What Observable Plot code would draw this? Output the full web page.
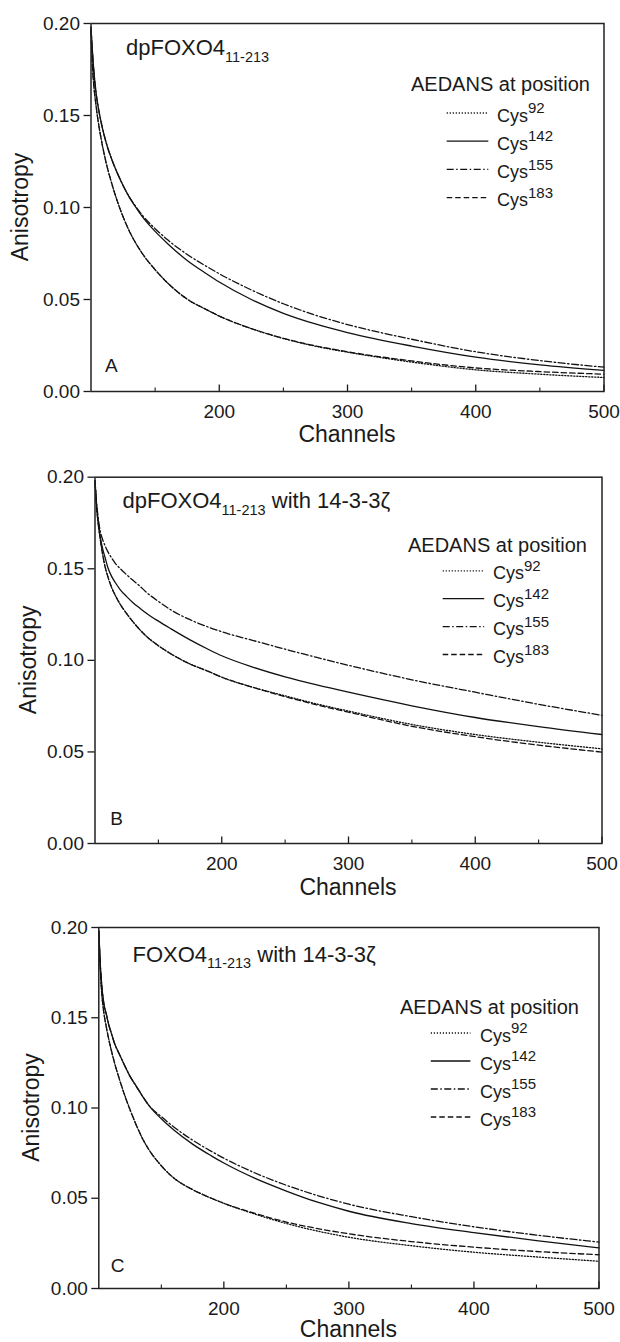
<!DOCTYPE html>
<html><head><meta charset="utf-8">
<script src="https://cdn.jsdelivr.net/npm/d3@7"></script>
<script src="https://cdn.jsdelivr.net/npm/@observablehq/plot@0.6"></script>
<style>
html,body{margin:0;padding:0;background:#fff;}
#root{position:relative;width:620px;height:1342px;overflow:hidden;background:#fff;}
</style></head><body><div id="root"></div>
<script>
// ---------------- data ----------------
const channels = [100,101,102,104,106,108,110,113,116,120,125,130,135,140,150,160,175,190,200,225,250,275,300,350,400,450,500];
const seriesKeys = ["92","142","155","183"];
const xMajor = [200,300,400,500];
const xMinor = [150,250,350,450];
const yTicks = [0,0.05,0.10,0.15,0.20];

// Panel A: dpFOXO4 11-213
const A_cys92  = [.196,.178,.168,.155,.145,.137,.130,.121,.1135,.1045,.0950,.0870,.0805,.0750,.0662,.0588,.0502,.0445,.0410,.0342,.0288,.0246,.0214,.0160,.0118,.0094,.0076];
const A_cys142 = [.198,.186,.176,.162,.153,.146,.140,.1325,.1265,.1195,.1120,.1055,.1000,.0950,.0870,.0802,.0712,.0640,.0595,.0500,.0425,.0367,.0320,.0247,.0187,.0145,.0115];
const A_cys155 = [.198,.186,.176,.162,.153,.146,.140,.1325,.1265,.1195,.1120,.1055,.1005,.0958,.0885,.0823,.0745,.0680,.0640,.0552,.0477,.0415,.0364,.0284,.0216,.0168,.0132];
const A_cys183 = [.196,.178,.168,.155,.145,.137,.130,.121,.1135,.1045,.0950,.0870,.0805,.0750,.0662,.0588,.0502,.0445,.0410,.0342,.0289,.0248,.0216,.0166,.0128,.0108,.0094];

// Panel B: dpFOXO4 11-213 with 14-3-3ζ
const B_cys92  = [.198,.186,.178,.167,.158,.151,.146,.140,.1355,.1305,.1255,.121,.117,.1135,.108,.1035,.098,.0938,.0908,.0852,.0806,.0762,.0723,.0650,.0595,.0553,.0517];
const B_cys142 = [.198,.187,.179,.168,.161,.156,.151,.146,.1425,.1385,.1348,.1315,.1287,.1260,.1214,.1172,.1112,.1058,.1025,.0962,.0910,.0866,.0826,.0752,.0688,.0638,.0595];
const B_cys155 = [.198,.188,.181,.171,.166,.1625,.1595,.1560,.1530,.1500,.1467,.1437,.1408,.1375,.1322,.1275,.1222,.1180,.1156,.1108,.1061,.1016,.0973,.0894,.0826,.0760,.0700];
const B_cys183 = [.198,.186,.178,.167,.158,.151,.146,.140,.1355,.1305,.1255,.121,.117,.1135,.108,.1035,.098,.0938,.0908,.0852,.0802,.0757,.0717,.0640,.0583,.0537,.0499];

// Panel C: FOXO4 11-213 with 14-3-3ζ
const C_cys92  = [.198,.180,.167,.153,.145,.138,.132,.124,.117,.1085,.099,.0905,.0830,.0770,.0680,.0612,.0548,.0500,.0472,.0412,.0360,.0318,.0284,.0237,.0201,.0175,.0151];
const C_cys142 = [.198,.182,.171,.158,.152,.146,.1415,.1350,.1305,.1245,.1175,.1120,.1065,.1015,.0940,.0878,.0800,.0735,.0695,.0610,.0540,.0478,.0428,.0360,.0310,.0265,.0225];
const C_cys155 = [.198,.182,.171,.158,.152,.146,.1415,.1350,.1305,.1245,.1175,.1120,.1065,.1015,.0952,.0895,.0822,.0760,.0722,.0640,.0572,.0515,.0467,.0398,.0342,.0296,.0257];
const C_cys183 = [.198,.180,.167,.153,.145,.138,.132,.124,.117,.1085,.099,.0905,.0830,.0770,.0680,.0612,.0548,.0500,.0472,.0416,.0368,.0332,.0303,.0260,.0229,.0205,.0187];

// ---------------- layout / style ----------------
const FONT = "'Liberation Sans', Arial, Helvetica, sans-serif";
const INK = "#1a1a1a";
const dashes = {"92": "1.2,1.8", "142": null, "155": "7,2.5,1.5,2.5", "183": "5.5,3"};

const panels = [
  {letter:"A", values:[A_cys92,A_cys142,A_cys155,A_cys183], top:0, height:447, mt:23, mb:56, ml:90.5, mr:16.5,
   title:["dpFOXO4","11-213",""], titleX:126, titleY:55, letterX:105, letterY:371.7,
   xLabelY:441.7, yLabelX:27.5,
   leg:{titleX:411, titleY:90.7, x1:446.7, x2:488.3, lineY:113, textX:497, textY:121.7, step:28.2}},
  {letter:"B", values:[B_cys92,B_cys142,B_cys155,B_cys183], top:447, height:453, mt:29.7, mb:57, ml:94.5, mr:18.5,
   title:["dpFOXO4","11-213"," with 14-3-3\u03B6"], titleX:122.5, titleY:61.3, letterX:110.3, letterY:378,
   xLabelY:448, yLabelX:35.5,
   leg:{titleX:408, titleY:104.7, x1:442.7, x2:484.2, lineY:123.8, textX:493, textY:132.3, step:27.9}},
  {letter:"C", values:[C_cys92,C_cys142,C_cys155,C_cys183], top:900, height:442, mt:27, mb:54, ml:98.3, mr:21.5,
   title:["FOXO4","11-213"," with 14-3-3\u03B6"], titleX:132.5, titleY:61.7, letterX:110.7, letterY:371.7,
   xLabelY:437, yLabelX:38.5,
   leg:{titleX:400, titleY:114, x1:430.8, x2:470.4, lineY:133, textX:480, textY:141.7, step:28}}
];

const root = document.getElementById("root");

for (const p of panels) {
  const rows = [];
  seriesKeys.forEach((k, si) => channels.forEach((c, i) => rows.push({series: k, ch: c, v: p.values[si][i]})));
  const plotH = p.height - p.mt - p.mb;

  const chart = Plot.plot({
    width: 620, height: p.height,
    marginTop: p.mt, marginBottom: p.mb, marginLeft: p.ml, marginRight: p.mr,
    style: {fontFamily: FONT, fontSize: "19px", color: INK, background: "transparent", overflow: "visible"},
    x: {domain: [100, 500], label: null},
    y: {domain: [0, 0.2], label: null},
    marks: [
      Plot.axisY({ticks: yTicks, tickFormat: d3.format(".2f"), tickSize: 7, tickPadding: 4, label: null, fontSize: 19, strokeWidth: 1.3}),
      Plot.axisX({ticks: xMajor, tickSize: 0, tickPadding: 12.5, label: null, fontSize: 19}),
      Plot.ruleX(xMajor, {insetTop: plotH - 6.5, stroke: INK, strokeWidth: 1.3}),
      Plot.ruleX(xMinor, {insetTop: plotH - 3.5, stroke: INK, strokeWidth: 1.1}),
      ...seriesKeys.map(k => Plot.line(rows.filter(r => r.series === k), {
        x: "ch", y: "v", curve: "monotone-x", stroke: "#111", strokeWidth: 1.3,
        strokeDasharray: dashes[k] || undefined
      })),
      Plot.frame({stroke: "#222", strokeWidth: 1.5})
    ]
  });
  chart.style.position = "absolute";
  chart.style.left = "0px";
  chart.style.top = p.top + "px";
  chart.style.maxWidth = "none";
  root.appendChild(chart);

  const svg = d3.select(chart);
  const g = svg.append("g").attr("font-family", FONT).attr("fill", INK).attr("text-anchor", "start");

  // panel title with subscript
  const t = g.append("text").attr("x", p.titleX).attr("y", p.titleY).attr("font-size", 22)
    .attr("text-anchor", "start").style("white-space", "pre");
  t.append("tspan").text(p.title[0]);
  t.append("tspan").attr("font-size", 14.5).attr("dy", 6.5).text(p.title[1]);
  if (p.title[2]) t.append("tspan").attr("dy", -6.5).text(p.title[2]);

  // panel letter
  g.append("text").attr("x", p.letterX).attr("y", p.letterY).attr("font-size", 19)
    .attr("text-anchor", "start").text(p.letter);

  // axis titles
  g.append("text").attr("x", (p.ml + 620 - p.mr) / 2).attr("y", p.xLabelY)
    .attr("text-anchor", "middle").attr("font-size", 23).text("Channels");
  g.append("text").attr("transform", `translate(${p.yLabelX},${p.mt + plotH / 2}) rotate(-90)`)
    .attr("text-anchor", "middle").attr("font-size", 23).text("Anisotropy");

  // legend
  const L = p.leg;
  g.append("text").attr("x", L.titleX).attr("y", L.titleY).attr("font-size", 20)
    .attr("text-anchor", "start").text("AEDANS at position");
  seriesKeys.forEach((k, i) => {
    g.append("line").attr("x1", L.x1).attr("x2", L.x2)
      .attr("y1", L.lineY + i * L.step).attr("y2", L.lineY + i * L.step)
      .attr("stroke", "#111").attr("stroke-width", 1.3)
      .attr("stroke-dasharray", dashes[k]);
    const tx = g.append("text").attr("x", L.textX).attr("y", L.textY + i * L.step)
      .attr("font-size", 18).attr("text-anchor", "start");
    tx.append("tspan").text("Cys");
    tx.append("tspan").attr("font-size", 15).attr("dy", -8.5).text(k);
  });
}
</script></body></html>
